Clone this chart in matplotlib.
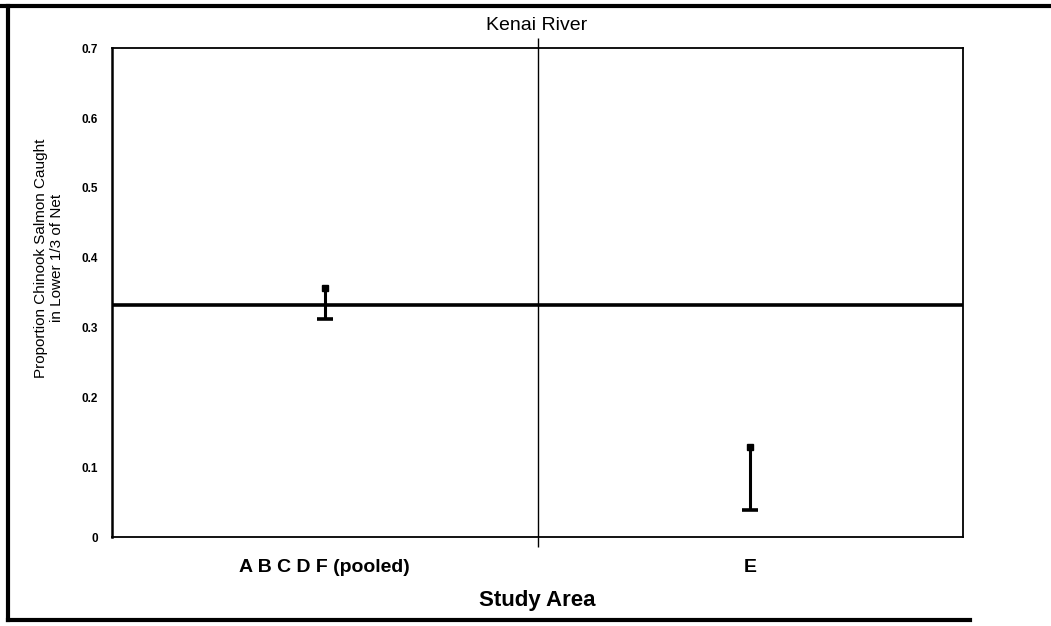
"""
Kenai River: proportion of Chinook salmon caught in the lower 1/3 of the net,
by study area, with 95% interval bars and the 1/3 reference line.
"""

import matplotlib.pyplot as plt
from matplotlib.lines import Line2D

plt.rcParams["font.family"] = ["Liberation Sans", "DejaVu Sans"]

# data
areas = ["A B C D F (pooled)", "E"]
upper = [0.357, 0.129]
lower = [0.312, 0.039]
ref_value = 0.333
y_ticks = [0, 0.1, 0.2, 0.3, 0.4, 0.5, 0.6, 0.7]
y_tick_labels = ["0", "0.1", "0.2", "0.3", "0.4", "0.5", "0.6", "0.7"]


def main():
    fig = plt.figure(figsize=(10.51, 6.26), dpi=100)
    ax = fig.add_axes([0.1066, 0.142, 0.8097, 0.781])

    x = list(range(len(areas)))

    # reference line at 1/3
    ax.axhline(ref_value, color="black", lw=2.6, zorder=2)

    # high-low bars: line, bottom cap, square top marker
    ax.vlines(x, lower, upper, color="black", lw=2.2, zorder=3)
    ax.plot(x, lower, ls="none", marker="_", ms=12, mew=2.6, color="black", zorder=3)
    ax.plot(x, upper, ls="none", marker="s", ms=5, color="black", zorder=3)

    # divider between categories
    ax.axvline(0.5, color="black", lw=1.0, zorder=1)

    ax.set_xlim(-0.5, len(areas) - 0.5)
    ax.set_ylim(0, 0.7)

    ax.set_yticks(y_ticks)
    ax.set_yticklabels(y_tick_labels, fontsize=8.5, fontweight="bold")
    ax.tick_params(axis="y", length=0, pad=10)

    ax.set_xticks([0.5])
    ax.set_xticklabels([""])
    ax.tick_params(axis="x", which="major", length=7, width=1.0, direction="out",
                   top=True, bottom=True)
    ax.set_xticks(x, minor=True)
    ax.set_xticklabels(areas, minor=True, fontsize=14, fontweight="bold")
    ax.tick_params(axis="x", which="minor", length=0, pad=16)

    for side in ["right", "top", "bottom"]:
        ax.spines[side].set_linewidth(1.3)
    ax.spines["left"].set_linewidth(1.8)

    ax.set_xlabel("Study Area", fontsize=16, fontweight="bold", labelpad=10)
    ax.set_ylabel("Proportion Chinook Salmon Caught\nin Lower 1/3 of Net",
                  fontsize=11, labelpad=14)
    ax.yaxis.set_label_coords(-0.056, 0.57)

    fig.text(0.511, 1 - 25 / 626, "Kenai River", ha="center", va="center", fontsize=14)

    # scanned page frame
    fig.add_artist(Line2D([0, 1], [1 - 6 / 626, 1 - 6 / 626], color="black", lw=3,
                          transform=fig.transFigure))
    fig.add_artist(Line2D([8 / 1051, 8 / 1051], [1 - 6 / 626, 1 - 620 / 626],
                          color="black", lw=3, transform=fig.transFigure))
    fig.add_artist(Line2D([8 / 1051, 970 / 1051], [1 - 620 / 626, 1 - 620 / 626],
                          color="black", lw=3, transform=fig.transFigure))

    fig.savefig("out.png", dpi=100)
    plt.close(fig)


if __name__ == "__main__":
    main()
